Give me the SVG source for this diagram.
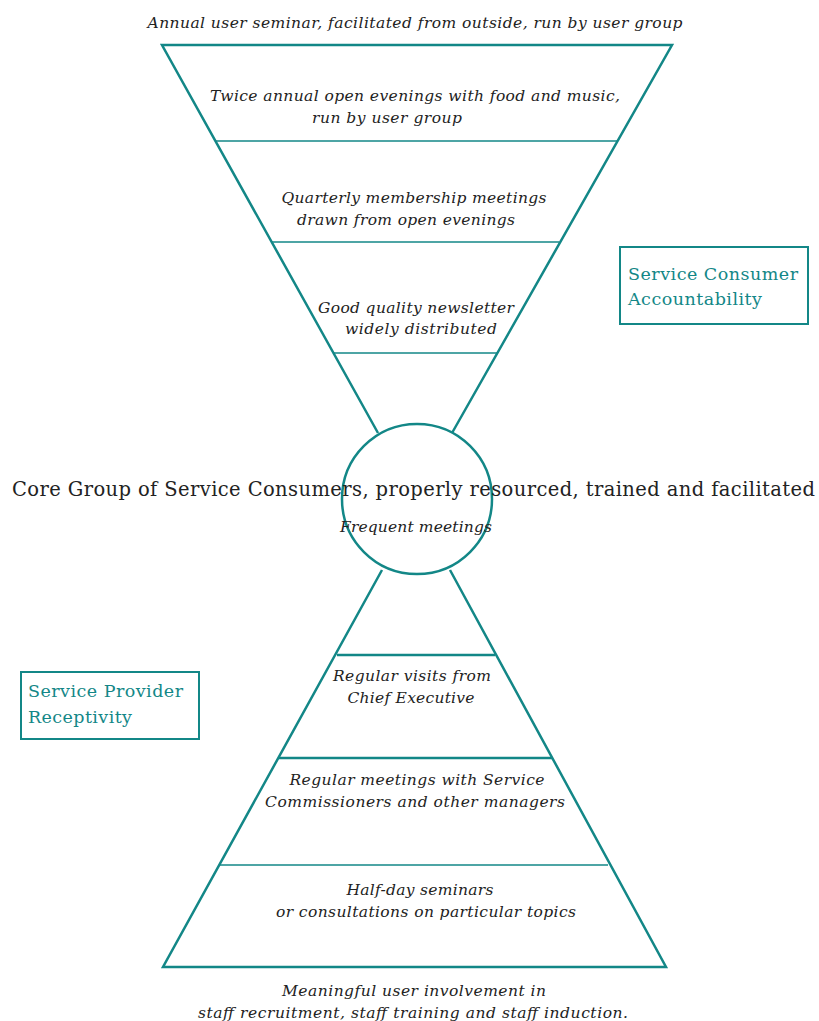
<svg xmlns="http://www.w3.org/2000/svg" width="819" height="1021" viewBox="0 0 819 1021">
<style>
.out{fill:none;stroke:#138787;stroke-width:2.5;stroke-linejoin:miter}
.in{fill:none;stroke:#138787;stroke-width:1.6}
.inb{fill:none;stroke:#138787;stroke-width:2.6}
.it{font-family:"DejaVu Serif","Liberation Serif",serif;font-style:italic;font-size:15.5px;fill:#222;text-anchor:middle}
.core{font-family:"DejaVu Serif","Liberation Serif",serif;font-size:19.5px;fill:#222}
.lab{font-family:"DejaVu Serif","Liberation Serif",serif;font-size:17.5px;fill:#138787}
.box{fill:#fff;stroke:#138787;stroke-width:2}
</style>
<rect width="819" height="1021" fill="#fff"/>
<g id="connectors">
<polyline class="out" points="378,433 162,45 672,45 452,433"/>
<polyline class="out" points="382,570 163,967 666,967 450,570"/>
</g>
<g id="top-funnel">
<line class="in" x1="215" y1="141" x2="617" y2="141"/>
<line class="in" x1="272" y1="242" x2="559" y2="242"/>
<line class="in" x1="333" y1="353" x2="498" y2="353"/>
<text class="it" x="415" y="28" textLength="535">Annual user seminar, facilitated from outside, run by user group</text>
<text class="it" x="415" y="101" textLength="410">Twice annual open evenings with food and music,</text>
<text class="it" x="387" y="123" textLength="150">run by user group</text>
<text class="it" x="414" y="203" textLength="265">Quarterly membership meetings</text>
<text class="it" x="406" y="225" textLength="218">drawn from open evenings</text>
<text class="it" x="416" y="313" textLength="196">Good quality newsletter</text>
<text class="it" x="421" y="334" textLength="152">widely distributed</text>
</g>
<g id="core">
<circle cx="417" cy="499" r="75" fill="none" stroke="#138787" stroke-width="2.5"/>
<text class="core" x="12" y="496" textLength="803">Core Group of Service Consumers, properly resourced, trained and facilitated</text>
<text class="it" x="416" y="532" textLength="152">Frequent meetings</text>
</g>
<g id="bottom-pyramid">
<line class="inb" x1="337" y1="655" x2="495" y2="655"/>
<line class="inb" x1="279" y1="758" x2="552" y2="758"/>
<line class="in" x1="220" y1="865" x2="608" y2="865"/>
<text class="it" x="412" y="681" textLength="158">Regular visits from</text>
<text class="it" x="411" y="703" textLength="127">Chief Executive</text>
<text class="it" x="417" y="785" textLength="255">Regular meetings with Service</text>
<text class="it" x="415" y="807" textLength="300">Commissioners and other managers</text>
<text class="it" x="420" y="895" textLength="147">Half-day seminars</text>
<text class="it" x="426" y="917" textLength="300">or consultations on particular topics</text>
<text class="it" x="414" y="996" textLength="264">Meaningful user involvement in</text>
<text class="it" x="413" y="1018" textLength="430">staff recruitment, staff training and staff induction.</text>
</g>
<g id="consumer-box">
<rect class="box" x="620" y="247" width="188" height="77"/>
<text class="lab" x="628" y="280" textLength="170">Service Consumer</text>
<text class="lab" x="628" y="305" textLength="134">Accountability</text>
</g>
<g id="provider-box">
<rect class="box" x="21" y="672" width="178" height="67"/>
<text class="lab" x="28" y="697" textLength="155">Service Provider</text>
<text class="lab" x="28" y="723" textLength="104">Receptivity</text>
</g>
</svg>
